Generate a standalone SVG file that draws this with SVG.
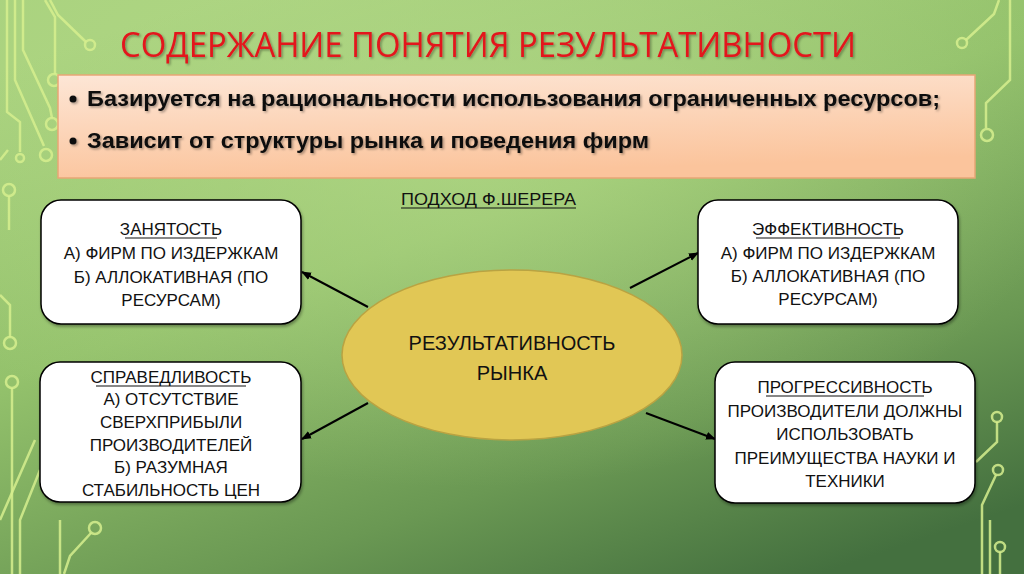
<svg xmlns="http://www.w3.org/2000/svg" width="1024" height="574" viewBox="0 0 1024 574">
<defs>
<linearGradient id="bg" x1="0.2" y1="0" x2="0.8" y2="1">
<stop offset="0" stop-color="#a9d27e"/>
<stop offset="0.4" stop-color="#94c26c"/>
<stop offset="0.75" stop-color="#6a9853"/>
<stop offset="1" stop-color="#44703f"/>
</linearGradient>
<radialGradient id="hl" cx="0.45" cy="0.25" r="0.6">
<stop offset="0" stop-color="#b8dc8c" stop-opacity="0.6"/>
<stop offset="1" stop-color="#b8dc8c" stop-opacity="0"/>
</radialGradient>
<linearGradient id="peach" x1="0" y1="0" x2="0.3" y2="1">
<stop offset="0" stop-color="#fde6d6"/>
<stop offset="1" stop-color="#fbc49c"/>
</linearGradient>
<filter id="sh" x="-5%" y="-20%" width="110%" height="140%">
<feDropShadow dx="1.5" dy="1.5" stdDeviation="1.2" flood-color="#000" flood-opacity="0.35"/>
</filter>
<filter id="bsh" x="-5%" y="-5%" width="110%" height="115%">
<feDropShadow dx="1" dy="2" stdDeviation="1.5" flood-color="#000" flood-opacity="0.35"/>
</filter>
<marker id="ah" viewBox="0 0 10 10" refX="9" refY="5" markerWidth="5" markerHeight="5" orient="auto-start-reverse" markerUnits="strokeWidth">
<path d="M0,1 L10,5 L0,9 z" fill="#000"/>
</marker>
<style>
.trace{fill:none;stroke:#d6ef8e;stroke-width:2.5;stroke-opacity:0.85}
.box{fill:#fff;stroke:#000;stroke-width:1.5}
.bt{font-family:"Liberation Sans",Arial,sans-serif;font-size:17px;fill:#111;text-anchor:middle}
.ul{stroke:#111;stroke-width:1.2}
.bul{font-family:"Liberation Sans",Arial,sans-serif;font-size:22px;font-weight:bold;fill:#111}
.conn{stroke:#000;stroke-width:2;fill:none}
</style>
</defs>
<rect width="1024" height="574" fill="url(#bg)"/>
<rect width="1024" height="574" fill="url(#hl)"/>

<g id="decor">
<path class="trace" d="M50,0 L58,15 L86,42"/><circle class="trace" cx="90" cy="45" r="5"/>
<path class="trace" d="M45,0 L55,17 L55,74"/><circle class="trace" cx="54" cy="80" r="6"/>
<path class="trace" d="M23,0 L23,50 L50,108 L52,118"/><circle class="trace" cx="52" cy="124" r="6"/>
<path class="trace" d="M15,0 L15,80 L44,146"/><circle class="trace" cx="46" cy="155" r="6"/>
<path class="trace" d="M7,0 L7,112 L20,122 L20,152"/><circle class="trace" cx="20" cy="158" r="4"/>
<path class="trace" d="M0,160 L8,150"/><circle class="trace" cx="9" cy="190" r="6"/>
<path class="trace" d="M9,196 L9,230"/>
<path class="trace" d="M0,295 L10,305 L10,337"/><circle class="trace" cx="10" cy="343" r="6"/>
<circle class="trace" cx="12" cy="382" r="6"/>
<path class="trace" d="M12,388 L12,574"/>
<path class="trace" d="M0,520 L35,440"/>
<path class="trace" d="M20,574 L20,520 L40,470"/>
<path class="trace" d="M60,574 L60,520"/>
<circle class="trace" cx="95" cy="528" r="6"/>
<path class="trace" d="M91,533 L70,556 L64,574"/>
<path class="trace" d="M999,0 L994,14 L966,40"/><circle class="trace" cx="962" cy="43" r="5"/>
<path class="trace" d="M1010,0 L1010,80 L986,103 L986,128"/><circle class="trace" cx="987" cy="135" r="6"/>
<circle class="trace" cx="997" cy="417" r="5"/>
<path class="trace" d="M997,422 L997,442 L976,462"/>
<circle class="trace" cx="998" cy="470" r="5"/>
<path class="trace" d="M996,475 L982,505 L982,574"/>
<path class="trace" d="M990,574 L990,520"/>
<circle class="trace" cx="1000" cy="547" r="5"/>
<path class="trace" d="M1000,552 L1000,574"/>
</g>

<g id="title">
<text x="488" y="57" text-anchor="middle" font-family="'Open Sans','Liberation Sans',sans-serif" font-size="35" fill="#e3141c" textLength="736" lengthAdjust="spacingAndGlyphs" filter="url(#sh)">СОДЕРЖАНИЕ ПОНЯТИЯ РЕЗУЛЬТАТИВНОСТИ</text>
</g>

<g id="summary">
<rect x="58" y="75" width="917" height="103" fill="url(#peach)" stroke="#e7a676" stroke-width="1.5"/>
<g filter="url(#sh)">
<circle cx="73" cy="99" r="3.5" fill="#111"/>
<text class="bul" x="87" y="106" textLength="853" lengthAdjust="spacingAndGlyphs">Базируется на рациональности использования ограниченных ресурсов;</text>
<circle cx="73" cy="141" r="3.5" fill="#111"/>
<text class="bul" x="87" y="148" textLength="562" lengthAdjust="spacingAndGlyphs">Зависит от структуры рынка и поведения фирм</text>
</g>
</g>

<g id="approach">
<text x="401" y="205" font-family="'Liberation Sans',Arial,sans-serif" font-size="16" fill="#111" textLength="175" lengthAdjust="spacingAndGlyphs">ПОДХОД Ф.ШЕРЕРА</text>
<line class="ul" x1="401" y1="208" x2="576" y2="208"/>
</g>

<g id="connectors">
<line class="conn" x1="368" y1="307" x2="302" y2="272" marker-end="url(#ah)"/>
<line class="conn" x1="368" y1="403" x2="302" y2="439" marker-end="url(#ah)"/>
<line class="conn" x1="630" y1="288" x2="698" y2="253" marker-end="url(#ah)"/>
<line class="conn" x1="646" y1="413" x2="715" y2="439" marker-end="url(#ah)"/>
</g>

<g id="center">
<ellipse cx="512" cy="355" rx="170" ry="85" fill="#e1c755" stroke="#b9a342" stroke-width="1.5"/>
<text x="512" y="350" text-anchor="middle" font-family="'Liberation Sans',Arial,sans-serif" font-size="20" fill="#111">РЕЗУЛЬТАТИВНОСТЬ</text>
<text x="512" y="380" text-anchor="middle" font-family="'Liberation Sans',Arial,sans-serif" font-size="20" fill="#111">РЫНКА</text>
</g>

<g id="employment">
<rect class="box" x="41" y="200" width="260" height="124" rx="20" filter="url(#bsh)"/>
<text class="bt" x="171" y="235">ЗАНЯТОСТЬ</text>
<line class="ul" x1="125" y1="238" x2="217" y2="238"/>
<text class="bt" x="171" y="259">А) ФИРМ ПО ИЗДЕРЖКАМ</text>
<text class="bt" x="171" y="283">Б) АЛЛОКАТИВНАЯ (ПО</text>
<text class="bt" x="171" y="306">РЕСУРСАМ)</text>
</g>

<g id="fairness">
<rect class="box" x="40" y="362" width="261" height="140" rx="20" filter="url(#bsh)"/>
<text class="bt" x="171" y="383">СПРАВЕДЛИВОСТЬ</text>
<line class="ul" x1="96" y1="386" x2="246" y2="386"/>
<text class="bt" x="171" y="405">А) ОТСУТСТВИЕ</text>
<text class="bt" x="171" y="428">СВЕРХПРИБЫЛИ</text>
<text class="bt" x="171" y="451">ПРОИЗВОДИТЕЛЕЙ</text>
<text class="bt" x="171" y="473">Б) РАЗУМНАЯ</text>
<text class="bt" x="171" y="496">СТАБИЛЬНОСТЬ ЦЕН</text>
</g>

<g id="efficiency">
<rect class="box" x="698" y="200" width="260" height="124" rx="20" filter="url(#bsh)"/>
<text class="bt" x="828" y="235">ЭФФЕКТИВНОСТЬ</text>
<line class="ul" x1="756" y1="238" x2="900" y2="238"/>
<text class="bt" x="828" y="259">А) ФИРМ ПО ИЗДЕРЖКАМ</text>
<text class="bt" x="828" y="282">Б) АЛЛОКАТИВНАЯ (ПО</text>
<text class="bt" x="828" y="305">РЕСУРСАМ)</text>
</g>

<g id="progressiveness">
<rect class="box" x="715" y="362" width="260" height="141" rx="20" filter="url(#bsh)"/>
<text class="bt" x="845" y="393">ПРОГРЕССИВНОСТЬ</text>
<line class="ul" x1="766" y1="396" x2="924" y2="396"/>
<text class="bt" x="845" y="417">ПРОИЗВОДИТЕЛИ ДОЛЖНЫ</text>
<text class="bt" x="845" y="440">ИСПОЛЬЗОВАТЬ</text>
<text class="bt" x="845" y="464">ПРЕИМУЩЕСТВА НАУКИ И</text>
<text class="bt" x="845" y="487">ТЕХНИКИ</text>
</g>
</svg>
